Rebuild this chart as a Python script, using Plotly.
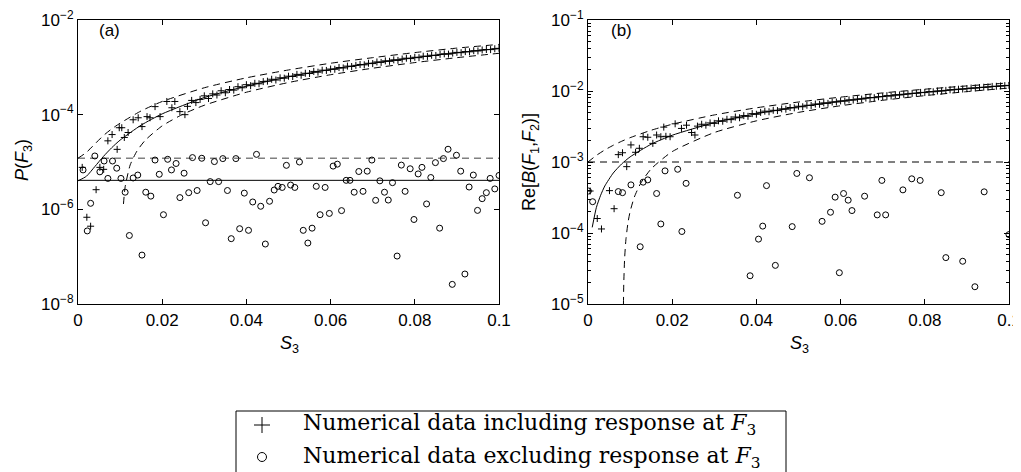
import plotly.graph_objects as go

# ---- panel (a): P(F3) ----
a_theory_s = [0, 0.002, 0.004, 0.006, 0.008, 0.01, 0.015, 0.02, 0.03, 0.04, 0.05, 0.06, 0.07, 0.08, 0.09, 0.1]
a_theory = [4e-6, 5e-6, 8e-6, 1.3e-5, 2.0e-5, 2.9e-5, 6.0e-5, 1.04e-4, 2.3e-4, 4.0e-4, 6.3e-4, 9.0e-4,
            1.23e-3, 1.6e-3, 2.03e-3, 2.5e-3]
a_upper = [1.2e-5, 1.6e-5, 2.4e-5, 3.6e-5, 5.0e-5, 6.6e-5, 1.2e-4, 1.9e-4, 3.7e-4, 6.0e-4, 8.8e-4, 1.22e-3,
           1.6e-3, 2.05e-3, 2.55e-3, 3.05e-3]
a_lower_s = [0.0108, 0.0112, 0.0124, 0.014, 0.016, 0.02, 0.025, 0.03, 0.04, 0.05, 0.06, 0.07, 0.08, 0.09, 0.1]
a_lower = [1.3e-6, 3e-6, 8.7e-6, 1.7e-5, 2.9e-5, 5.8e-5, 1.03e-4, 1.58e-4, 2.98e-4, 4.78e-4, 6.98e-4,
           9.58e-4, 1.26e-3, 1.6e-3, 1.98e-3]
a_noise = 4.1e-6
a_noise_upper = 1.2e-5

a_plus_s = [0.001, 0.0021, 0.003, 0.0043, 0.0052, 0.0061, 0.0071, 0.0081, 0.0093, 0.0098, 0.0104, 0.011,
            0.0119, 0.0131, 0.0143, 0.0152, 0.0164, 0.0171, 0.0183, 0.0195, 0.0211, 0.0223, 0.023, 0.0242,
            0.0254, 0.026, 0.027, 0.028, 0.029, 0.03, 0.031, 0.032, 0.033, 0.034, 0.035, 0.036, 0.037,
            0.038, 0.039, 0.04, 0.041, 0.042, 0.043, 0.044, 0.045, 0.046, 0.047, 0.048, 0.049, 0.05,
            0.051, 0.052, 0.053, 0.054, 0.055, 0.056, 0.057, 0.058, 0.059, 0.06, 0.061, 0.062, 0.063,
            0.064, 0.065, 0.066, 0.067, 0.068, 0.069, 0.07, 0.071, 0.072, 0.073, 0.074, 0.075, 0.076,
            0.077, 0.078, 0.079, 0.08, 0.081, 0.082, 0.083, 0.084, 0.085, 0.086, 0.087, 0.088, 0.089,
            0.09, 0.091, 0.092, 0.093, 0.094, 0.095, 0.096, 0.097, 0.098, 0.099, 0.1]
a_plus = [7.7e-6, 6.8e-7, 4.4e-7, 2.6e-6, 7.7e-6, 7e-6, 2.8e-5, 3.8e-5, 1.85e-5, 5.3e-5, 5.3e-5, 3.3e-5,
          4.2e-5, 7.8e-5, 8.6e-5, 5.6e-5, 9.1e-5, 8.6e-5, 1.48e-4, 9.1e-5, 1.9e-4, 1.4e-4, 1.9e-4, 1.16e-4,
          1.0e-4, 1.5e-4, 2.0e-4, 1.8e-4, 2.1e-4, 2.5e-4, 2.2e-4, 2.75e-4, 2.6e-4, 3.2e-4, 2.9e-4, 3.4e-4,
          3.3e-4, 3.9e-4, 3.7e-4, 4.3e-4, 4.1e-4, 4.6e-4, 4.5e-4, 5.0e-4, 5.1e-4, 5.6e-4, 5.4e-4, 6.0e-4,
          5.9e-4, 6.5e-4, 6.4e-4, 7.1e-4, 6.8e-4, 7.5e-4, 7.4e-4, 8.2e-4, 7.9e-4, 8.7e-4, 8.6e-4, 9.2e-4,
          9.1e-4, 9.9e-4, 9.7e-4, 1.06e-3, 1.04e-3, 1.1e-3, 1.15e-3, 1.13e-3, 1.22e-3, 1.2e-3, 1.3e-3,
          1.27e-3, 1.37e-3, 1.34e-3, 1.44e-3, 1.4e-3, 1.5e-3, 1.56e-3, 1.53e-3, 1.63e-3, 1.6e-3, 1.72e-3,
          1.7e-3, 1.8e-3, 1.78e-3, 1.88e-3, 1.93e-3, 1.9e-3, 2.0e-3, 2.07e-3, 2.04e-3, 2.15e-3, 2.13e-3,
          2.25e-3, 2.22e-3, 2.33e-3, 2.38e-3, 2.37e-3, 2.47e-3, 2.52e-3]

a_circ_s = [0.0012, 0.0022, 0.003, 0.004, 0.0052, 0.0062, 0.0071, 0.0082, 0.0092, 0.0102, 0.0112, 0.0122,
            0.0131, 0.0142, 0.0152, 0.0161, 0.0173, 0.0183, 0.0193, 0.0203, 0.0213, 0.0222, 0.0233, 0.0242,
            0.0252, 0.0263, 0.0272, 0.0283, 0.0294, 0.0303, 0.0314, 0.0324, 0.0334, 0.0344, 0.0355, 0.0364,
            0.0375, 0.0384, 0.0395, 0.0405, 0.0415, 0.0424, 0.0434, 0.0445, 0.0455, 0.0466, 0.0475, 0.0485,
            0.0495, 0.0505, 0.0515, 0.0526, 0.0535, 0.0546, 0.0556, 0.0566, 0.0575, 0.0587, 0.0597, 0.0606,
            0.0616, 0.0626, 0.0637, 0.0646, 0.0656, 0.0667, 0.0677, 0.0687, 0.0698, 0.0707, 0.0717, 0.0728,
            0.0737, 0.0747, 0.0758, 0.0768, 0.0777, 0.0789, 0.0798, 0.0808, 0.0817, 0.0828, 0.0838, 0.0849,
            0.0859, 0.0868, 0.0879, 0.0889, 0.0899, 0.0909, 0.0919, 0.0929, 0.0939, 0.0949, 0.096, 0.097,
            0.0979, 0.099, 0.1]
a_circ = [6.8e-6, 3.5e-7, 1.34e-6, 1.34e-5, 6.2e-6, 1.05e-5, 4.5e-6, 1.05e-5, 7.4e-6, 4.5e-6, 2.3e-6,
          2.8e-7, 4.6e-6, 5.3e-6, 1.08e-7, 2.3e-6, 1.9e-6, 1.1e-5, 5.5e-6, 7.7e-7, 1.14e-5, 6.8e-6, 9.3e-6,
          1.77e-6, 5.8e-6, 2.25e-6, 1.24e-5, 2.5e-6, 1.2e-5, 5.2e-7, 3.85e-6, 1.02e-5, 3.85e-6, 1.18e-5,
          2.5e-6, 2.4e-7, 1.18e-5, 3.9e-7, 2.2e-6, 3.6e-7, 1.43e-6, 1.45e-5, 1.16e-6, 1.85e-7, 1.48e-6,
          2.56e-6, 3.06e-6, 2.9e-6, 8.5e-6, 3.26e-6, 2.9e-6, 1.0e-5, 3.6e-7, 1.94e-7, 4.0e-7, 3.06e-6,
          7.7e-7, 2.9e-6, 8.2e-7, 8.2e-6, 9.0e-6, 9.4e-7, 4.1e-6, 4.1e-6, 2.3e-6, 6.3e-6, 2.4e-6, 6.4e-6,
          1.1e-5, 1.55e-6, 4.0e-6, 2.3e-6, 1.57e-6, 3.66e-6, 1.03e-7, 8.6e-6, 2.4e-6, 7.2e-6, 6.1e-7,
          5.6e-6, 7.7e-6, 1.3e-6, 4.7e-6, 9.7e-6, 4.0e-7, 1.18e-5, 1.86e-5, 2.6e-8, 1.39e-5, 6.4e-6,
          4.3e-8, 2.96e-6, 5.3e-6, 9.5e-7, 1.68e-6, 2.25e-6, 4.5e-6, 2.7e-6, 5.2e-6]

# ---- panel (b): Re[B(F1,F2)] ----
b_theory_s = [0.001, 0.002, 0.003, 0.004, 0.006, 0.008, 0.01, 0.015, 0.02, 0.03, 0.04, 0.05, 0.06, 0.07,
              0.08, 0.09, 0.1]
b_theory = [1.2e-4, 2.3e-4, 3.4e-4, 4.6e-4, 7.0e-4, 9.4e-4, 1.18e-3, 1.78e-3, 2.38e-3, 3.58e-3, 4.78e-3,
            5.98e-3, 7.18e-3, 8.38e-3, 9.58e-3, 1.078e-2, 1.198e-2]
b_upper_s = [0, 0.002, 0.004, 0.006, 0.008, 0.01, 0.015, 0.02, 0.03, 0.04, 0.05, 0.06, 0.07, 0.08, 0.09, 0.1]
b_upper = [1.0e-3, 1.24e-3, 1.48e-3, 1.72e-3, 1.96e-3, 2.2e-3, 2.8e-3, 3.4e-3, 4.6e-3, 5.8e-3, 7.0e-3,
           8.2e-3, 9.4e-3, 1.06e-2, 1.18e-2, 1.3e-2]
b_lower_s = [0.00842, 0.0085, 0.0087, 0.009, 0.0095, 0.01, 0.011, 0.0125, 0.015, 0.02, 0.03, 0.04, 0.05,
             0.06, 0.07, 0.08, 0.09, 0.1]
b_lower = [1e-5, 2e-5, 4.4e-5, 8e-5, 1.4e-4, 2e-4, 3.2e-4, 5e-4, 8e-4, 1.4e-3, 2.6e-3, 3.8e-3, 5.0e-3,
           6.2e-3, 7.4e-3, 8.6e-3, 9.8e-3, 1.1e-2]
b_noise = 1e-3

b_plus_s = [0.0005, 0.0022, 0.0032, 0.0051, 0.0062, 0.0072, 0.0082, 0.0092, 0.0102, 0.0113, 0.0122, 0.0131,
            0.0142, 0.0154, 0.0163, 0.0173, 0.018, 0.0185, 0.0195, 0.0207, 0.0222, 0.0234, 0.0246, 0.0254,
            0.026, 0.027, 0.028, 0.029, 0.03, 0.031, 0.032, 0.033, 0.034, 0.035, 0.036, 0.037, 0.038,
            0.039, 0.04, 0.041, 0.042, 0.043, 0.044, 0.045, 0.046, 0.047, 0.048, 0.049, 0.05, 0.051,
            0.052, 0.053, 0.054, 0.055, 0.056, 0.057, 0.058, 0.059, 0.06, 0.061, 0.062, 0.063, 0.064,
            0.065, 0.066, 0.067, 0.068, 0.069, 0.07, 0.071, 0.072, 0.073, 0.074, 0.075, 0.076, 0.077,
            0.078, 0.079, 0.08, 0.081, 0.082, 0.083, 0.084, 0.085, 0.086, 0.087, 0.088, 0.089, 0.09,
            0.091, 0.092, 0.093, 0.094, 0.095, 0.096, 0.097, 0.098, 0.099, 0.1]
b_plus = [3.9e-4, 1.6e-4, 1.14e-4, 3.95e-4, 2.2e-4, 1.27e-3, 1.35e-3, 8.6e-4, 1.74e-3, 1.37e-3, 1.56e-3,
          2.27e-3, 2.23e-3, 1.83e-3, 2.4e-3, 2.27e-3, 3.1e-3, 2.3e-3, 2.27e-3, 3.45e-3, 2.97e-3, 3.3e-3,
          2.6e-3, 2.4e-3, 3.2e-3, 3.4e-3, 3.3e-3, 3.55e-3, 3.5e-3, 3.8e-3, 3.75e-3, 4.0e-3, 3.95e-3, 4.3e-3,
          4.2e-3, 4.5e-3, 4.4e-3, 4.8e-3, 4.7e-3, 5.0e-3, 5.2e-3, 5.1e-3, 5.35e-3, 5.3e-3, 5.6e-3, 5.55e-3,
          5.85e-3, 5.8e-3, 6.1e-3, 6.0e-3, 6.3e-3, 6.25e-3, 6.55e-3, 6.5e-3, 6.8e-3, 6.7e-3, 7.0e-3, 7.0e-3,
          7.25e-3, 7.2e-3, 7.5e-3, 7.45e-3, 7.7e-3, 7.7e-3, 7.95e-3, 8.1e-3, 8.05e-3, 8.3e-3, 8.35e-3,
          8.6e-3, 8.5e-3, 8.85e-3, 8.8e-3, 9.0e-3, 9.1e-3, 9.25e-3, 9.3e-3, 9.55e-3, 9.5e-3, 9.8e-3,
          9.75e-3, 1.0e-2, 1.0e-2, 1.02e-2, 1.04e-2, 1.045e-2, 1.06e-2, 1.065e-2, 1.08e-2, 1.1e-2, 1.1e-2,
          1.12e-2, 1.13e-2, 1.14e-2, 1.16e-2, 1.165e-2, 1.18e-2, 1.19e-2, 1.2e-2]

b_circ_s = [0.0001, 0.0011, 0.0072, 0.0082, 0.0102, 0.0124, 0.0131, 0.0142, 0.0163, 0.0173, 0.0183, 0.0213,
            0.0223, 0.0233, 0.0355, 0.0385, 0.0405, 0.0415, 0.0424, 0.0445, 0.0485, 0.0496, 0.0526, 0.0556,
            0.0576, 0.0587, 0.0597, 0.0607, 0.0618, 0.0627, 0.0657, 0.0687, 0.0698, 0.0707, 0.0748, 0.0769,
            0.0789, 0.0839, 0.085, 0.089, 0.0919, 0.0941, 0.1]
b_circ = [3.9e-4, 2.76e-4, 3.83e-4, 3.7e-4, 4.76e-4, 6.4e-5, 5.2e-4, 5.6e-4, 3.6e-4, 1.34e-4, 7.5e-4, 7.9e-4,
          1.05e-4, 5.0e-4, 3.4e-4, 2.5e-5, 8.2e-5, 1.25e-4, 4.65e-4, 3.5e-5, 1.23e-4, 6.9e-4, 6.0e-4, 1.46e-4,
          1.96e-4, 3.2e-4, 2.76e-5, 3.6e-4, 2.9e-4, 2.07e-4, 3.3e-4, 1.8e-4, 5.5e-4, 1.8e-4, 4.05e-4, 5.8e-4,
          5.5e-4, 3.7e-4, 4.5e-5, 4.0e-5, 1.75e-5, 3.8e-4, 9.5e-5]

x_ticks = [0, 0.02, 0.04, 0.06, 0.08, 0.1]
x_ticktext = ['0', '0.02', '0.04', '0.06', '0.08', '0.1']
a_yticks = [1e-8, 1e-6, 1e-4, 1e-2]
a_ytext = ['10<sup>−8</sup>', '10<sup>−6</sup>', '10<sup>−4</sup>', '10<sup>−2</sup>']
b_yticks = [1e-5, 1e-4, 1e-3, 1e-2, 1e-1]
b_ytext = ['10<sup>−5</sup>', '10<sup>−4</sup>', '10<sup>−3</sup>', '10<sup>−2</sup>', '10<sup>−1</sup>']
legend_rows = ['Numerical data including response at <i>F</i><sub>3</sub>',
               'Numerical data excluding response at <i>F</i><sub>3</sub>']

SANS = 'Liberation Sans, Arial, sans-serif'
SERIF = 'DejaVu Serif, serif'
DASH = '7px,5px'

W, H = 1021, 472
OFF = 8  # the page body margin shifts the plot by 8px


def X(p):
    return (p - OFF) / W


def Y(p):
    return 1 - (p - OFF) / H


fig = go.Figure()


def line(xs, ys, xa, ya, color='black', dash='solid', width=1):
    fig.add_trace(go.Scatter(x=xs, y=ys, xaxis=xa, yaxis=ya, mode='lines',
                             line=dict(color=color, dash=dash, width=width, shape='spline', smoothing=0.6),
                             hoverinfo='skip', showlegend=False))


def marks(xs, ys, xa, ya, symbol, size):
    fig.add_trace(go.Scatter(x=xs, y=ys, xaxis=xa, yaxis=ya, mode='markers',
                             marker=dict(symbol=symbol, size=size, color='black',
                                         line=dict(color='black', width=1)),
                             showlegend=False))


# panel (a)
line([0, 0.1], [a_noise, a_noise], 'x', 'y')
line([0, 0.1], [a_noise_upper, a_noise_upper], 'x', 'y', color='#808080', dash=DASH, width=1.5)
line(a_theory_s, a_theory, 'x', 'y')
line(a_theory_s, a_upper, 'x', 'y', dash=DASH)
line(a_lower_s, a_lower, 'x', 'y', dash=DASH)
marks(a_plus_s, a_plus, 'x', 'y', 'cross-thin', 5)
marks(a_circ_s, a_circ, 'x', 'y', 'circle-open', 6)

# panel (b)
line([0, 0.1], [b_noise, b_noise], 'x2', 'y2', dash=DASH)
line(b_theory_s, b_theory, 'x2', 'y2')
line(b_upper_s, b_upper, 'x2', 'y2', dash=DASH)
line(b_lower_s, b_lower, 'x2', 'y2', dash=DASH)
marks(b_plus_s, b_plus, 'x2', 'y2', 'cross-thin', 5)
marks(b_circ_s, b_circ, 'x2', 'y2', 'circle-open', 6)

ydom = [Y(304), Y(20)]
axis_common = dict(showline=True, linecolor='black', linewidth=1.2, mirror='ticks', ticks='inside',
                   ticklen=5, tickcolor='black', showgrid=False, zeroline=False, automargin=False,
                   ticklabeloverflow='allow',
                   tickfont=dict(family=SANS, size=17, color='black'))

fig.update_layout(
    width=W, height=H,
    margin=dict(l=0, r=0, t=0, b=0, pad=0),
    paper_bgcolor='white', plot_bgcolor='white',
    showlegend=False,
    xaxis=dict(domain=[X(78), X(499)], anchor='y', range=[0, 0.1], tickvals=x_ticks,
               ticktext=x_ticktext, **axis_common),
    yaxis=dict(domain=ydom, anchor='x', type='log', range=[-8, -2], tickvals=a_yticks,
               ticktext=a_ytext, **axis_common),
    xaxis2=dict(domain=[X(588), X(1009)], anchor='y2', range=[0, 0.1], tickvals=x_ticks,
                ticktext=x_ticktext, **axis_common),
    yaxis2=dict(domain=ydom, anchor='x2', type='log', range=[-5, -1], tickvals=b_yticks,
                ticktext=b_ytext,
                minor=dict(ticks='inside', ticklen=3, tickcolor='black', showgrid=False,
                           tickvals=[m * 10 ** e for e in range(-5, -1) for m in range(2, 10)]),
                **axis_common),
)

ann = [
    dict(text='(a)', x=X(109), y=Y(31), font=dict(size=17)),
    dict(text='(b)', x=X(621), y=Y(31), font=dict(size=17)),
    dict(text='<i>S</i><sub>3</sub>', x=X(289), y=Y(344), font=dict(size=18)),
    dict(text='<i>S</i><sub>3</sub>', x=X(799), y=Y(344), font=dict(size=18)),
    dict(text='<i>P</i>(<i>F</i><sub>3</sub>)', x=X(23), y=Y(160), textangle=-90,
         font=dict(size=18)),
    dict(text='Re[<i>B</i>(<i>F</i><sub>1</sub>,<i>F</i><sub>2</sub>)]', x=X(530), y=Y(162),
         textangle=-90, font=dict(size=18)),
]
for a in ann:
    a['font'].update(family=SANS, color='black')
    fig.add_annotation(xref='paper', yref='paper', showarrow=False, xanchor='center', yanchor='middle', **a)

# legend box drawn by hand (only its top part fits in the figure)
box_l, box_r, box_t = 236, 786, 411
fig.add_shape(type='line', xref='paper', yref='paper', x0=X(box_l), x1=X(box_r),
              y0=Y(box_t), y1=Y(box_t), line=dict(color='black', width=1))
for xb in (box_l, box_r):
    fig.add_shape(type='line', xref='paper', yref='paper', x0=X(xb), x1=X(xb),
                  y0=Y(box_t), y1=Y(H + OFF), line=dict(color='black', width=1))

# legend symbols
px, py1, py2 = 262, 425, 457
fig.add_shape(type='line', xref='paper', yref='paper', x0=X(px - 8), x1=X(px + 8),
              y0=Y(py1), y1=Y(py1), line=dict(color='black', width=1))
fig.add_shape(type='line', xref='paper', yref='paper', x0=X(px), x1=X(px),
              y0=Y(py1 - 8), y1=Y(py1 + 8), line=dict(color='black', width=1))
fig.add_shape(type='circle', xref='paper', yref='paper', x0=X(px - 4.5), x1=X(px + 4.5),
              y0=Y(py2 - 4.5), y1=Y(py2 + 4.5), line=dict(color='black', width=1))

for i, t in enumerate(legend_rows):
    fig.add_annotation(xref='paper', yref='paper', x=X(301), y=Y(424 + 33 * i), text=t,
                       showarrow=False, xanchor='left', yanchor='middle',
                       font=dict(family=SERIF, size=22, color='black'))

fig.write_html("out.html")
